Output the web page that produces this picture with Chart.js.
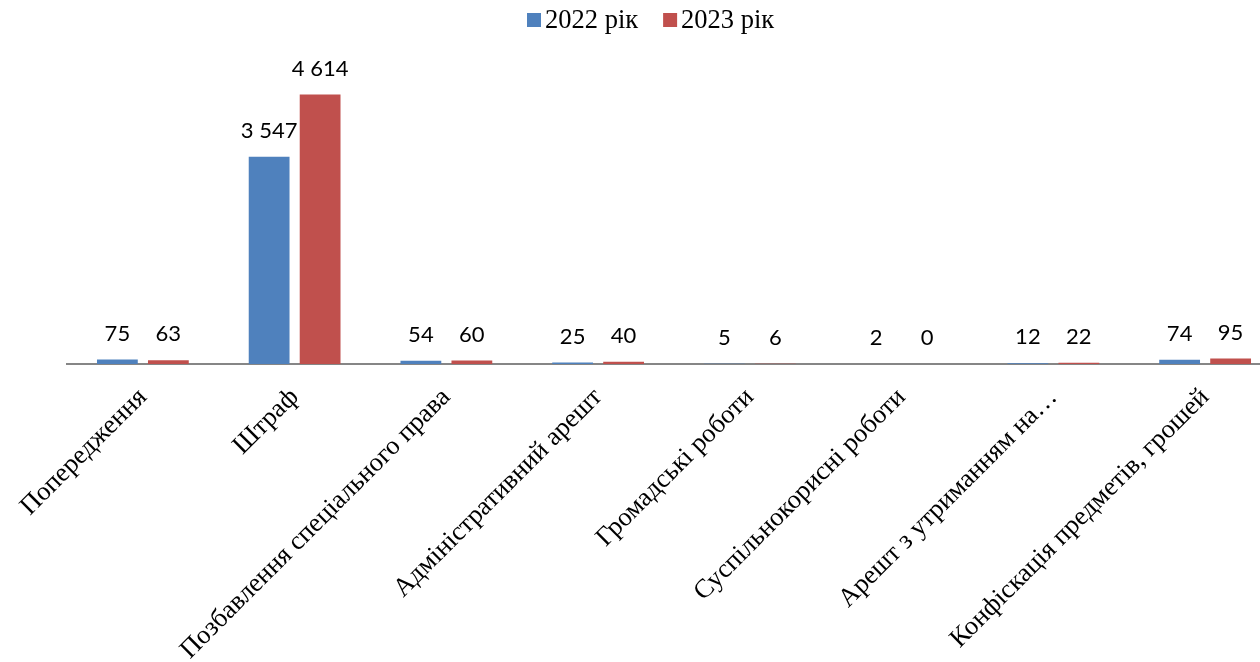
<!DOCTYPE html>
<html>
<head>
<meta charset="utf-8">
<script src="https://cdn.jsdelivr.net/npm/chart.js@4"></script>
<style>
  html, body { margin: 0; padding: 0; background: #fff; overflow: hidden; }
  #wrap { position: relative; width: 1281px; height: 662px; }
</style>
</head>
<body>
<div id="wrap"><canvas id="penalties"></canvas></div>
<script>
const categories = [
  "Попередження",
  "Штраф",
  "Позбавлення спеціального права",
  "Адміністративний арешт",
  "Громадські роботи",
  "Суспільнокорисні роботи",
  "Арешт з утриманням на…",
  "Конфіскація предметів, грошей"
];
const seriesNames = ["2022 рік", "2023 рік"];
const values2022 = [75, 3547, 54, 25, 5, 2, 12, 74];
const values2023 = [63, 4614, 60, 40, 6, 0, 22, 95];
const colors = ["#4F81BD", "#C0504D"];

function fmt(v) {
  return String(v).replace(/\B(?=(\d{3})+(?!\d))/g, " ");
}

// values above every bar
const barLabels = {
  id: "barLabels",
  afterDatasetsDraw(chart) {
    const ctx = chart.ctx;
    ctx.save();
    ctx.font = "22px Lato";
    ctx.fillStyle = "#000";
    ctx.textAlign = "center";
    ctx.textBaseline = "middle";
    chart.data.datasets.forEach((ds, i) => {
      chart.getDatasetMeta(i).data.forEach((bar, j) => {
        ctx.fillText(fmt(ds.data[j]), bar.x, bar.y - 26);
      });
    });
    ctx.restore();
  }
};

// legend drawn by hand so the box/text gap stays tight
const topLegend = {
  id: "topLegend",
  afterDraw(chart) {
    const ctx = chart.ctx;
    ctx.save();
    ctx.font = "26.5px 'Liberation Serif'";
    ctx.textBaseline = "middle";
    let x = 527;
    const y = 20;
    chart.data.datasets.forEach((ds) => {
      ctx.fillStyle = ds.backgroundColor;
      ctx.fillRect(x, y - 7, 14, 14);
      ctx.fillStyle = "#000";
      ctx.fillText(ds.label, x + 18, y + 1);
      x += 18 + ctx.measureText(ds.label).width + 25;
    });
    ctx.restore();
  }
};

new Chart(document.getElementById("penalties"), {
  type: "bar",
  data: {
    labels: categories,
    datasets: [
      { label: seriesNames[0], data: values2022, backgroundColor: colors[0] },
      { label: seriesNames[1], data: values2023, backgroundColor: colors[1] }
    ]
  },
  options: {
    responsive: true,
    maintainAspectRatio: false,
    animation: false,
    devicePixelRatio: 1,
    layout: { padding: { top: 72, left: 67, right: 0, bottom: 0 } },
    datasets: { bar: { categoryPercentage: 0.672, barPercentage: 0.8 } },
    plugins: {
      legend: { display: false },
      tooltip: { enabled: false }
    },
    scales: {
      x: {
        grid: { display: false },
        border: { display: true, color: "#868686", width: 2 },
        ticks: {
          color: "#000",
          font: { family: "'Liberation Serif'", size: 26.5 },
          minRotation: 45,
          maxRotation: 45,
          autoSkip: false,
          padding: 10
        },
        afterFit(scale) { scale.height = 298; }
      },
      y: {
        display: false,
        min: 0,
        max: 5000
      }
    }
  },
  plugins: [barLabels, topLegend]
});
</script>
</body>
</html>
